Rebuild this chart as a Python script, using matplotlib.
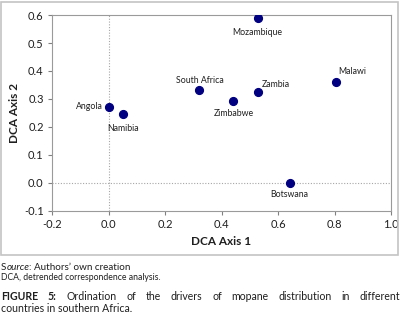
import matplotlib
matplotlib.use("Agg")
import matplotlib.pyplot as plt
from matplotlib.patches import Rectangle

plt.rcParams['font.family'] = ['Lato', 'DejaVu Sans']

countries = ["Angola", "Namibia", "South Africa", "Mozambique", "Zimbabwe",
             "Zambia", "Malawi", "Botswana"]
axis1 = [0.0, 0.051, 0.322, 0.528, 0.442, 0.528, 0.804, 0.641]
axis2 = [0.272, 0.245, 0.333, 0.588, 0.294, 0.324, 0.362, 0.0]
xticks = [-0.2, 0.0, 0.2, 0.4, 0.6, 0.8, 1.0]
yticks = [-0.1, 0.0, 0.1, 0.2, 0.3, 0.4, 0.5, 0.6]

# label offsets in pixels (dx, dy) and alignment
label_pos = {
    "Angola": (-6, 0, "right", "center"),
    "Namibia": (0, -14, "center", "center"),
    "South Africa": (0, 9, "center", "center"),
    "Mozambique": (0, -14, "center", "center"),
    "Zimbabwe": (0, -13, "center", "center"),
    "Zambia": (4, 8, "left", "center"),
    "Malawi": (3, 10, "left", "center"),
    "Botswana": (0, -12, "center", "center"),
}

W, H = 402, 317
TXT = "#1f1f1f"
fig = plt.figure(figsize=(W / 100, H / 100), dpi=100)
ax = fig.add_axes([52 / W, 1 - 211 / H, (391 - 52) / W, (211 - 15) / H])

# outer chart border
fig.patches.append(Rectangle((1.5 / W, 1 - 255 / H), (398 - 1.5) / W, (255 - 2) / H,
                             transform=fig.transFigure, fill=False,
                             edgecolor="#c4c4c4", linewidth=1.2))

ax.axvline(0, color="#a6a6a6", linestyle=(0, (1, 1.5)), linewidth=0.8, zorder=1)
ax.axhline(0, color="#a6a6a6", linestyle=(0, (1, 1.5)), linewidth=0.8, zorder=1)

ax.plot(axis1, axis2, linestyle="none", marker="o", markersize=5.6,
        color="#000080", zorder=3)

pt = 72 / 100
for name, x, y in zip(countries, axis1, axis2):
    dx, dy, ha, va = label_pos[name]
    ax.annotate(name, (x, y), xytext=(dx * pt, dy * pt), textcoords="offset points",
                ha=ha, va=va, fontsize=6.3, color=TXT)

ax.set_xlim(-0.2, 1.0)
ax.set_ylim(-0.1, 0.6)
ax.set_xticks(xticks)
ax.set_yticks(yticks)
ax.set_xticklabels([f"{t:.1f}" for t in xticks])
ax.set_yticklabels([f"{t:.1f}" for t in yticks])
ax.tick_params(axis="both", labelsize=8, length=3, width=0.8, color="#808080",
               labelcolor=TXT, pad=3)
for s in ax.spines.values():
    s.set_color("#9a9a9a")
    s.set_linewidth(0.8)

ax.set_xlabel("DCA Axis 1", fontsize=8.5, fontweight="bold", color=TXT, labelpad=4)
ax.set_ylabel("DCA Axis 2", fontsize=8.5, fontweight="bold", color=TXT, labelpad=3)

# caption
fig.canvas.draw()
r = fig.canvas.get_renderer()


def run(pieces, y, size):
    x = 1.0
    for s, style, weight in pieces:
        o = fig.text(x / W, 1 - y / H, s, fontsize=size, style=style, fontweight=weight,
                     va="center", ha="left", color=TXT)
        fig.canvas.draw()
        x += o.get_window_extent(r).width


run([("S", "normal", "normal"), ("ource", "italic", "normal"),
     (": Authors\u2019 own creation", "normal", "normal")], 268, 7.1)
run([("DCA, detrended correspondence analysis.", "normal", "normal")], 278, 6.2)

# justified first caption line
words = [("FIGURE", "bold"), ("5:", "bold"), ("Ordination", "normal"), ("of", "normal"),
         ("the", "normal"), ("drivers", "normal"), ("of", "normal"), ("mopane", "normal"),
         ("distribution", "normal"), ("in", "normal"), ("different", "normal")]
objs = [fig.text(0, 1 - 297 / H, w, fontsize=7.6, fontweight=fw, va="center", ha="left",
                 color=TXT) for w, fw in words]
fig.canvas.draw()
widths = [o.get_window_extent(r).width for o in objs]
left, right = 1, 400
gap = (right - left - sum(widths)) / (len(words) - 1)
xpos = left
for o, w in zip(objs, widths):
    o.set_x(xpos / W)
    xpos += w + gap
fig.text(1 / W, 1 - 309 / H, "countries in southern Africa.", fontsize=7.6,
         va="center", ha="left", color=TXT)

fig.savefig("out.png", dpi=100)
